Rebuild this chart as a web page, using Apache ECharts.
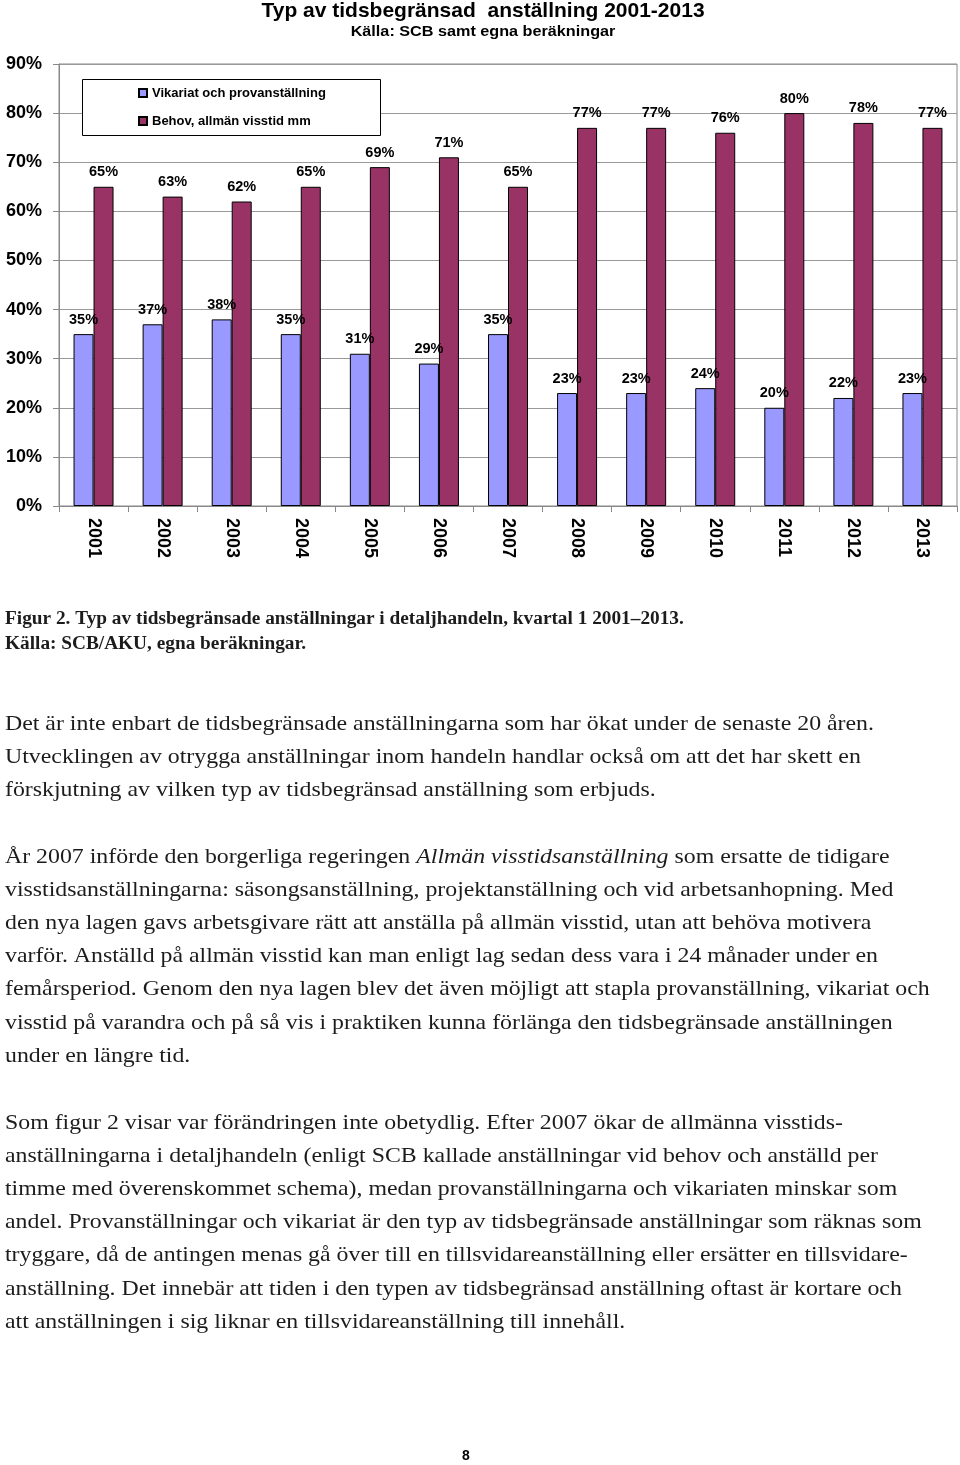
<!DOCTYPE html>
<html>
<head>
<meta charset="utf-8">
<script src="https://cdn.jsdelivr.net/npm/echarts@6/dist/echarts.min.js"></script>
<style>
html,body{margin:0;padding:0;background:#fff;}
#main{width:960px;height:1465px;}
</style>
</head>
<body>
<div id="main"></div>
<script>
var years = ['2001','2002','2003','2004','2005','2006','2007','2008','2009','2010','2011','2012','2013'];
var vikariat = [35,37,38,35,31,29,35,23,23,24,20,22,23];
var behov = [65,63,62,65,69,71,65,77,77,76,80,78,77];
var seriesNames = ['Vikariat och provanställning','Behov, allmän visstid mm'];
var yTicks = [0,10,20,30,40,50,60,70,80,90];

var chartTitle = 'Typ av tidsbegränsad  anställning 2001-2013';
var chartSubtitle = 'Källa: SCB samt egna beräkningar';
var captionLines = [
  'Figur 2. Typ av tidsbegränsade anställningar i detaljhandeln, kvartal 1 2001–2013.',
  'Källa: SCB/AKU, egna beräkningar.'
];
var para1 = [
  'Det är inte enbart de tidsbegränsade anställningarna som har ökat under de senaste 20 åren.',
  'Utvecklingen av otrygga anställningar inom handeln handlar också om att det har skett en',
  'förskjutning av vilken typ av tidsbegränsad anställning som erbjuds.'
];
var para2 = [
  'År 2007 införde den borgerliga regeringen {i|Allmän visstidsanställning} som ersatte de tidigare',
  'visstidsanställningarna: säsongsanställning, projektanställning och vid arbetsanhopning. Med',
  'den nya lagen gavs arbetsgivare rätt att anställa på allmän visstid, utan att behöva motivera',
  'varför. Anställd på allmän visstid kan man enligt lag sedan dess vara i 24 månader under en',
  'femårsperiod. Genom den nya lagen blev det även möjligt att stapla provanställning, vikariat och',
  'visstid på varandra och på så vis i praktiken kunna förlänga den tidsbegränsade anställningen',
  'under en längre tid.'
];
var para3 = [
  'Som figur 2 visar var förändringen inte obetydlig. Efter 2007 ökar de allmänna visstids-',
  'anställningarna i detaljhandeln (enligt SCB kallade anställningar vid behov och anställd per',
  'timme med överenskommet schema), medan provanställningarna och vikariaten minskar som',
  'andel. Provanställningar och vikariat är den typ av tidsbegränsade anställningar som räknas som',
  'tryggare, då de antingen menas gå över till en tillsvidareanställning eller ersätter en tillsvidare-',
  'anställning. Det innebär att tiden i den typen av tidsbegränsad anställning oftast är kortare och',
  'att anställningen i sig liknar en tillsvidareanställning till innehåll.'
];
var pageNumber = '8';

var SANS = 'Liberation Sans, Arial, sans-serif';
var SERIF = 'Liberation Serif, Times New Roman, serif';
var TXT = '#1c1c1c';

var graphics = [];
graphics.push({type:'text', x:483, y:11, z:5, style:{text:chartTitle, align:'center', verticalAlign:'middle', font:'bold 21px '+SANS, fill:'#000'}});
graphics.push({type:'text', x:483, y:32, z:5, scaleX:1.08, style:{text:chartSubtitle, align:'center', verticalAlign:'middle', font:'bold 15px '+SANS, fill:'#000'}});
// legend box
graphics.push({type:'rect', z:1, shape:{x:82.5, y:79.5, width:298, height:56}, style:{fill:'#fff', stroke:'#000', lineWidth:1}});

function addLines(lines, startY, step, font, sx) {
  lines.forEach(function(t, i){
    graphics.push({type:'text', x:5, y:startY + i*step, scaleX:sx, style:{text:t, align:'left', verticalAlign:'middle', font:font, fill:TXT,
      rich:{i:{fontStyle:'italic', fontFamily:SERIF, fontSize:21, fill:TXT}}}});
  });
}
addLines(captionLines, 619, 25, 'bold 18px '+SERIF, 1.072);
addLines(para1, 724, 33.2, '21px '+SERIF, 1.135);
addLines(para2, 857, 33.2, '21px '+SERIF, 1.135);
addLines(para3, 1123, 33.2, '21px '+SERIF, 1.135);
graphics.push({type:'text', x:466, y:1456, style:{text:pageNumber, align:'center', verticalAlign:'middle', font:'bold 14px '+SANS, fill:'#000'}});

var chart = echarts.init(document.getElementById('main'), null, {renderer:'canvas'});
var labelStyle = {show:true, position:'top', distance:7, formatter:'{c}%', fontFamily:SANS, fontWeight:'bold', fontSize:14.5, color:'#000'};
chart.setOption({
  animation:false,
  backgroundColor:'#fff',
  grid:{left:59, right:3, top:64, bottom:959, show:true, borderColor:'#888', borderWidth:1},
  legend:{
    orient:'vertical', left:138, top:86, z:10, padding:0,
    itemWidth:8, itemHeight:8, itemGap:14,
    icon:'rect',
    textStyle:{fontFamily:SANS, fontWeight:'bold', fontSize:13, color:'#000', lineHeight:14},
    data:seriesNames
  },
  xAxis:{
    type:'category', data:years,
    axisLine:{lineStyle:{color:'#888'}},
    axisTick:{show:true, length:6, lineStyle:{color:'#888'}},
    axisLabel:{rotate:-90, margin:12, fontFamily:SANS, fontWeight:'bold', fontSize:18, color:'#000'}
  },
  yAxis:{
    type:'value', min:yTicks[0], max:yTicks[yTicks.length-1], interval:10,
    axisLine:{show:true, lineStyle:{color:'#888'}},
    axisTick:{show:true, length:6, lineStyle:{color:'#888'}},
    splitLine:{lineStyle:{color:'#999'}},
    axisLabel:{formatter:'{value}%', margin:17, fontFamily:SANS, fontWeight:'bold', fontSize:18, color:'#000'}
  },
  series:[
    {name:seriesNames[0], type:'bar', data:vikariat, barWidth:20, barGap:'0%',
     itemStyle:{color:'#9999FF', borderColor:'#000', borderWidth:1}, label:labelStyle},
    {name:seriesNames[1], type:'bar', data:behov, barWidth:20, barGap:'0%',
     itemStyle:{color:'#993366', borderColor:'#000', borderWidth:1}, label:labelStyle}
  ],
  graphic:graphics
});
</script>
</body>
</html>
